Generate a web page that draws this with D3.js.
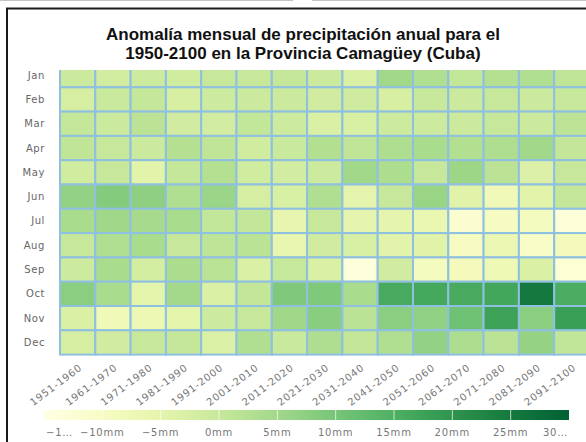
<!DOCTYPE html>
<html>
<head>
<meta charset="utf-8">
<script src="https://cdn.jsdelivr.net/npm/d3@7"></script>
<style>
  body { margin: 0; background: #fff; }
  svg { display: block; }
</style>
</head>
<body>
<svg id="chart" width="586" height="442"></svg>
<script>
// monthly precipitation anomaly (mm), one value per decade
const months = ['Jan', 'Feb', 'Mar', 'Apr', 'May', 'Jun', 'Jul', 'Aug', 'Sep', 'Oct', 'Nov', 'Dec'];
const decades = ['1951-1960', '1961-1970', '1971-1980', '1981-1990', '1991-2000', '2001-2010',
  '2011-2020', '2021-2030', '2031-2040', '2041-2050', '2051-2060', '2061-2070',
  '2071-2080', '2081-2090', '2091-2100'];

const jan = [-0.6, -1.7, -0.9, -1.4, 0, 0, 0.3, -0.7, -3.0, 5.0, 3.0, 0.5, 2.5, 3.0, 1.0];
const feb = [-2.3, -0.4, 0.3, -2.5, -1.0, -0.7, -0.8, -1.5, -1.2, -2.4, -0.2, -0.7, 0, -0.7, -0.2];
const mar = [0.3, -0.8, 1.6, -1.5, -1.8, 0.5, -1.0, -3.0, -2.8, -0.9, -1.0, -0.7, 0, -0.7, 1.4];
const apr = [1.0, -0.1, -0.6, 2.5, 1.0, -1.3, -0.3, 2.8, 1.0, 3.2, 3.9, 2.8, 3.2, 5.0, 0.6];
const may = [-1.4, 0, -4.5, 0.3, 2.5, -1.3, -1.8, -1.0, 5.0, 3.5, -0.1, 5.5, 1.6, -3.5, 0];
const jun = [6.8, 8.6, 7.4, 3.0, 5.8, -2.3, -2.8, 3.0, -5.0, -0.1, 6.0, -4.2, -7.8, -4.5, 0.3];
const jul = [3.9, 5.2, 4.3, 3.9, 0.5, 0.6, -5.5, -0.1, -5.0, -5.4, -6.2, -12.0, -9.5, -9.0, -13.0];
const aug = [0, 3.0, 3.9, -0.1, 1.2, 1.7, -5.8, -1.5, -2.8, -4.6, -4.2, -9.5, -6.5, -10.5, -8.5];
const sep = [-0.9, 3.9, -2.0, 3.7, 1.7, -3.0, 0.1, -3.0, -13.5, -1.5, -9.0, -8.5, -7.5, -3.0, -12.5];
const oct = [7.9, 3.9, -4.8, 4.7, -3.0, 0.6, 9.0, 9.2, 3.9, 16.0, 16.3, 16.0, 16.8, 25.0, 15.5];
const nov = [-3.0, -7.8, -6.8, -4.8, -0.9, -0.1, 5.2, 8.0, 1.7, 7.9, 7.0, 11.0, 17.5, 7.8, 18.0];
const dec = [-2.3, -1.5, -0.1, 0.3, -3.2, 3.0, -0.3, 3.2, 0.6, 3.0, 6.8, 3.5, 1.6, 6.6, 0.8];

const monthRows = [jan, feb, mar, apr, may, jun, jul, aug, sep, oct, nov, dec];

// legend
const legendTicks = [-15, -10, -5, 0, 5, 10, 15, 20, 25, 30];
const legendLabels = ['\u22121\u2026', '\u221210mm', '\u22125mm', '0mm', '5mm', '10mm', '15mm', '20mm', '25mm', '30\u2026'];

const svg = d3.select('#chart');
const W = 586;

// frame lines (picture is a crop of a bordered figure)
svg.append('line').attr('x1', 0).attr('x2', 293).attr('y1', 0.5).attr('y2', 0.5).attr('stroke', '#c4c4c4');
svg.append('line').attr('x1', 312).attr('x2', W).attr('y1', 0.5).attr('y2', 0.5).attr('stroke', '#c4c4c4');
svg.append('line').attr('x1', 6).attr('x2', W).attr('y1', 8.5).attr('y2', 8.5).attr('stroke', '#1a1a1a').attr('stroke-width', 2);
svg.append('line').attr('x1', 7).attr('x2', 7).attr('y1', 8).attr('y2', 442).attr('stroke', '#1a1a1a').attr('stroke-width', 2);

// title
const title = svg.append('text')
  .attr('text-anchor', 'middle')
  .style('font-family', '"Liberation Sans", Arial, sans-serif')
  .style('font-weight', 'bold')
  .style('font-size', '17px')
  .attr('fill', '#111');
title.append('tspan').attr('x', 303).attr('y', 39.5).text('Anomalía mensual de precipitación anual para el');
title.append('tspan').attr('x', 303).attr('y', 59).text('1950-2100 en la Provincia Camagüey (Cuba)');

// scales
const x = d3.scaleBand().domain(decades).range([60, 589.5]);
const y = d3.scaleBand().domain(months).range([63, 354.6]);
const color = d3.scaleSequential(d3.interpolateYlGn).domain([-15, 35]);

const cells = [];
monthRows.forEach((row, i) => {
  row.forEach((v, j) => cells.push({ month: months[i], decade: decades[j], value: v }));
});

svg.append('clipPath').attr('id', 'clip-grid')
  .append('rect').attr('x', 0).attr('y', 70).attr('width', 600).attr('height', 300);

svg.append('g')
  .attr('clip-path', 'url(#clip-grid)')
  .selectAll('rect.cell')
  .data(cells)
  .enter()
  .append('rect')
  .attr('class', 'cell')
  .attr('x', d => x(d.decade))
  .attr('y', d => y(d.month))
  .attr('width', x.bandwidth())
  .attr('height', y.bandwidth())
  .attr('fill', d => color(d.value))
  .attr('stroke', '#8fc0e0')
  .attr('stroke-width', 2);

// month labels
svg.append('g')
  .selectAll('text')
  .data(months)
  .enter()
  .append('text')
  .attr('x', 45)
  .attr('y', d => y(d) + y.bandwidth() / 2)
  .attr('dy', '0.35em')
  .attr('text-anchor', 'end')
  .style('font-family', '"DejaVu Sans", Verdana, sans-serif')
  .style('font-size', '10px')
  .style('letter-spacing', '0.6px')
  .attr('fill', '#666')
  .text(d => d);

// decade labels, rotated
svg.append('g')
  .selectAll('text')
  .data(decades)
  .enter()
  .append('text')
  .attr('transform', d => `translate(${x(d) + x.bandwidth() / 2 + 5},369) rotate(-37)`)
  .attr('text-anchor', 'end')
  .style('font-family', '"DejaVu Sans", Verdana, sans-serif')
  .style('font-size', '10px')
  .style('letter-spacing', '0.8px')
  .attr('fill', '#777')
  .text(d => d);

// legend bar
const lx = d3.scaleLinear().domain([-15, 30]).range([44, 569]);
const grad = svg.append('defs').append('linearGradient').attr('id', 'legend-grad');
d3.range(0, 1.0001, 0.05).forEach(t => {
  grad.append('stop')
    .attr('offset', t)
    .attr('stop-color', color(-15 + t * 45));
});
svg.append('rect')
  .attr('x', lx(-15)).attr('y', 410)
  .attr('width', lx(30) - lx(-15)).attr('height', 10)
  .attr('fill', 'url(#legend-grad)');

svg.append('g')
  .selectAll('line')
  .data(legendTicks.slice(1, -1))
  .enter()
  .append('line')
  .attr('x1', d => lx(d)).attr('x2', d => lx(d))
  .attr('y1', 410).attr('y2', 420)
  .attr('stroke', '#fff')
  .attr('stroke-opacity', 0.7)
  .attr('stroke-width', 1);

svg.append('g')
  .selectAll('text')
  .data(legendTicks)
  .enter()
  .append('text')
  .attr('x', (d, i) => i === 0 ? lx(d) + 2 : i === legendTicks.length - 1 ? lx(d) - 1 : lx(d))
  .attr('y', 436)
  .attr('text-anchor', (d, i) => i === 0 ? 'start' : i === legendTicks.length - 1 ? 'end' : 'middle')
  .style('font-family', '"DejaVu Sans", Verdana, sans-serif')
  .style('font-size', '10px')
  .style('letter-spacing', '0.8px')
  .attr('fill', '#777')
  .text((d, i) => legendLabels[i]);
</script>
</body>
</html>
